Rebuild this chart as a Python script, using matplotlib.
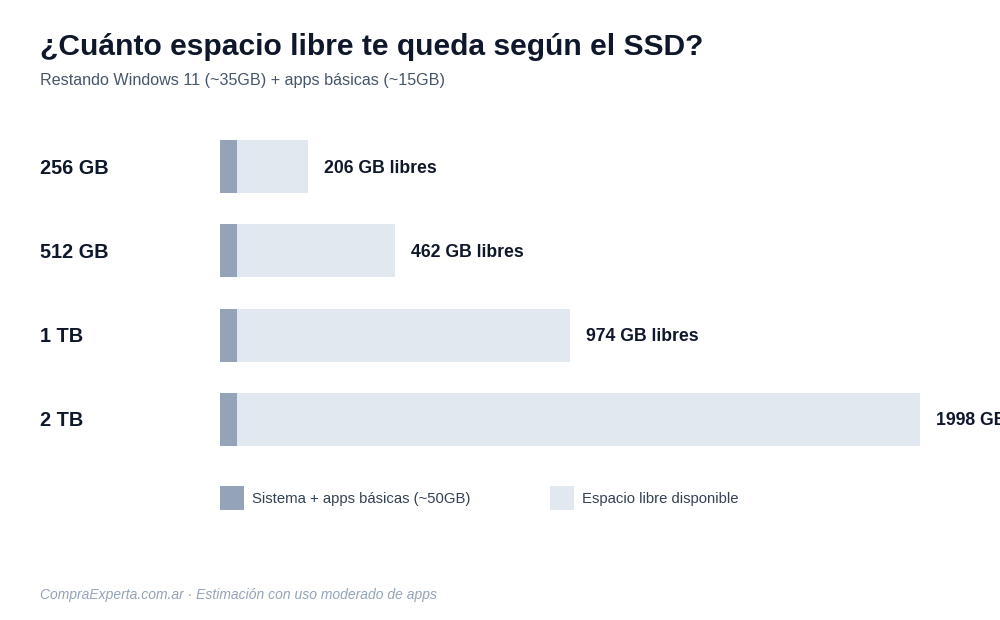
import matplotlib
matplotlib.use("Agg")
import matplotlib.pyplot as plt
from matplotlib.patches import Rectangle

plt.rcParams['font.family'] = ['Liberation Sans', 'DejaVu Sans']

categories = ["256 GB", "512 GB", "1 TB", "2 TB"]
capacity_gb = [256, 512, 1024, 2048]
system_gb = [50, 50, 50, 50]
free_gb = [206, 462, 974, 1998]
legend_labels = ["Sistema + apps básicas (~50GB)", "Espacio libre disponible"]

C_SYS = "#94a3b8"
C_FREE = "#e2e8f0"
C_TITLE = "#0f172a"
C_SUB = "#475569"
C_FOOT = "#94a3b8"

W, H = 1000, 620
fig = plt.figure(figsize=(W / 100, H / 100), dpi=100)
fig.patch.set_facecolor("white")

def fx(px):
    return px / W

def fy(py):
    return 1 - py / H

# axes: x 220..920 px, y 125..461 px
ax = fig.add_axes([fx(220), fy(461), fx(920) - fx(220), (461 - 125) / H])
ax.set_xlim(0, max(capacity_gb))
ax.set_ylim(len(categories) - 0.5, -0.5)
ax.axis("off")

ypos = list(range(len(categories)))
bh = 53 / 84
ax.barh(ypos, system_gb, height=bh, color=C_SYS, linewidth=0)
ax.barh(ypos, free_gb, left=system_gb, height=bh, color=C_FREE, linewidth=0)

for i, (s, f) in enumerate(zip(system_gb, free_gb)):
    ax.annotate(f"{f} GB libres", xy=(s + f, i), xytext=(16 * 0.72, -1.4),
                textcoords="offset points", ha="left", va="center",
                fontsize=12.7, fontweight="bold", color=C_TITLE,
                annotation_clip=False)

for i, c in enumerate(categories):
    fig.text(fx(40), fy(169 + 84 * i), c, ha="left", va="center",
             fontsize=14.3, fontweight="bold", color=C_TITLE)

fig.text(fx(40), fy(47), "¿Cuánto espacio libre te queda según el SSD?",
         ha="left", va="center", fontsize=21.6, fontweight="bold", color=C_TITLE)
fig.text(fx(40), fy(80), "Restando Windows 11 (~35GB) + apps básicas (~15GB)",
         ha="left", va="center", fontsize=11.6, color=C_SUB)

# legend
for (x0, col, lab) in [(220, C_SYS, legend_labels[0]), (550, C_FREE, legend_labels[1])]:
    fig.patches.append(Rectangle((fx(x0), fy(510)), 24 / W, 24 / H,
                                 transform=fig.transFigure, facecolor=col,
                                 edgecolor="none"))
    fig.text(fx(x0 + 32), fy(499), lab, ha="left", va="center",
             fontsize=10.7, color="#334155")

fig.text(fx(40), fy(595), "CompraExperta.com.ar · Estimación con uso moderado de apps",
         ha="left", va="center", fontsize=10, style="italic", color=C_FOOT)

fig.savefig("out.png", dpi=100, facecolor="white")
